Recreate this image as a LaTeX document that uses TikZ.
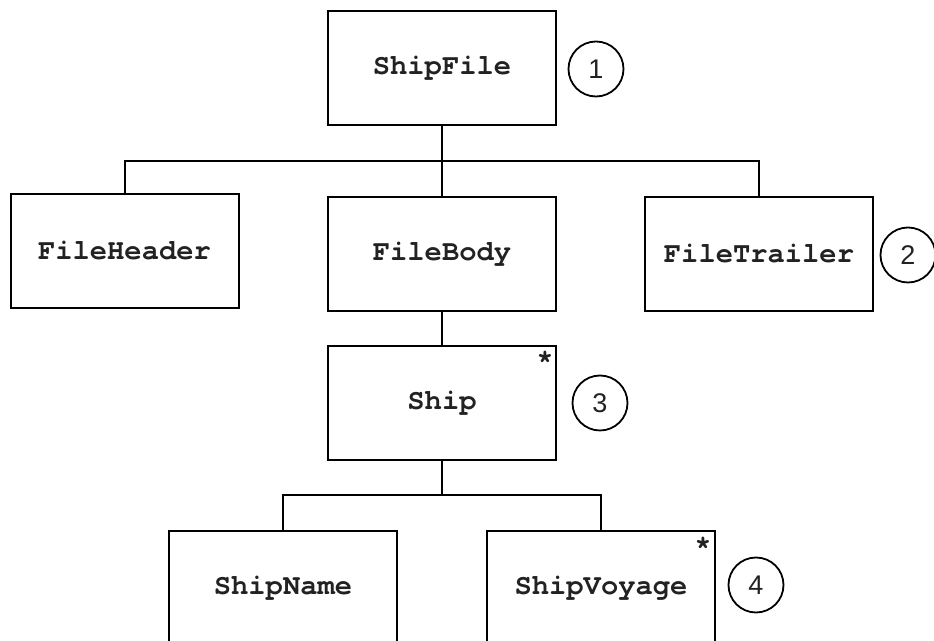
\documentclass[tikz,border=0pt]{standalone}
\usepackage{fontspec}
\setmainfont{Liberation Sans}
\newfontfamily\boxfont{TeX Gyre Cursor}
\definecolor{ink}{HTML}{222222}
\begin{document}
\begin{tikzpicture}[x=0.5pt,y=-0.5pt,
  entity/.style={draw,line width=1pt,rectangle,inner sep=0pt,minimum width=114pt,minimum height=57pt,text=ink,font=\boxfont\bfseries\fontsize{14.4}{16}\selectfont},
  marker/.style={draw,line width=0.9pt,circle,inner sep=0pt,minimum size=27.5pt,text=ink,font=\fontsize{13.5}{15}\selectfont},
  star/.style={inner sep=0pt,text=ink,font=\boxfont\bfseries\fontsize{14}{15}\selectfont},
  link/.style={line width=1pt}]
\useasboundingbox (0,0) rectangle (934,641);
\clip (0,0) rectangle (934,641);
\node[entity] (shipfile) at (442,68.5) {ShipFile};
\node[entity] (fileheader) at (124.5,251) {FileHeader};
\node[entity] (filebody) at (442,254) {FileBody};
\node[entity] (filetrailer) at (759,254) {FileTrailer};
\node[entity] (ship) at (442,403) {Ship};
\node[entity] (shipname) at (283,588) {ShipName};
\node[entity] (shipvoyage) at (601,588) {ShipVoyage};
\node[marker] (m1) at (596,69) {1};
\node[marker] (m2) at (908,255) {2};
\node[marker] (m3) at (600,403) {3};
\node[marker] (m4) at (756,585) {4};
\node[star] (s1) at (545,360) {*};
\node[star] (s2) at (703,546) {*};
\coordinate (b1) at (442,161);
\coordinate (b2) at (442,495);
\draw[link] (shipfile.south) -- (filebody.north);
\draw[link] (fileheader.north) |- (b1) -| (filetrailer.north);
\draw[link] (filebody.south) -- (ship.north);
\draw[link] (ship.south) -- (b2);
\draw[link] (shipname.north) |- (b2) -| (shipvoyage.north);
\end{tikzpicture}
\end{document}
